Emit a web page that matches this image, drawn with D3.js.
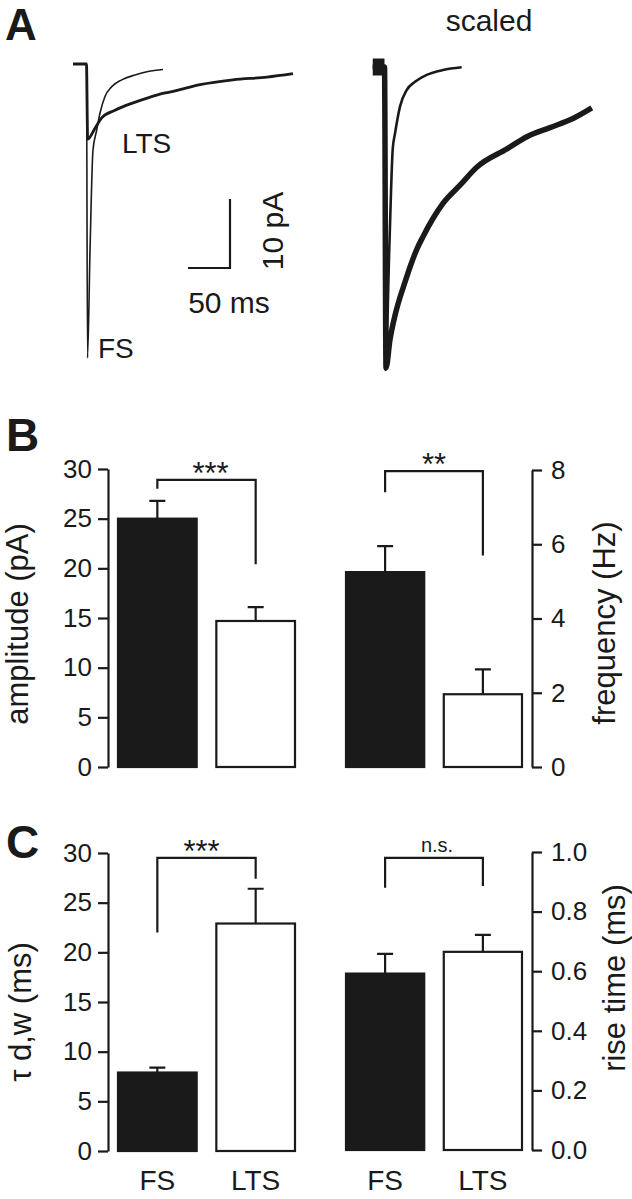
<!DOCTYPE html>
<html><head><meta charset="utf-8">
<script src="https://cdn.jsdelivr.net/npm/d3@7/dist/d3.min.js"></script>
<style>
body{margin:0;background:#fff}
svg{display:block;background:#fff}
text{font-family:"Liberation Sans",Arial,Helvetica,sans-serif;fill:#1a1a1a}
</style>
</head><body>
<svg id="chart" width="632" height="1199"></svg>
<script>
// ---------- Panel A: example traces (time in ms, current in pA) ----------
const fsTime     = [-16, 0, 1.2, 4.2, 7.7, 12.1, 16.1, 22.0, 30.0, 41.9, 57.7, 73.2, 91.1];
const fsCurrent  = [0, 0, -42.6, -27.0, -12.5, -9.6, -7.1, -4.7, -3.3, -2.3, -1.6, -1.1, -0.8];
const ltsTime    = [-16, 0, 1.4, 10.1, 18.1, 33.9, 53.8, 73.2, 93.5, 105.4, 135.1, 174.4, 214.9, 245.8];
const ltsCurrent = [0, 0, -10.9, -9.3, -7.8, -6.7, -5.7, -4.9, -4.2, -3.9, -3.0, -2.3, -1.9, -1.4];
// scaled traces (normalised to peak)
const fsScaledTime  = [-14, 0, 1.2, 5.7, 9.8, 12.5, 18.5, 26.4, 36.3, 50.2, 69.6, 91.9];
const fsScaled      = [0, 0, -1.0, -0.60, -0.27, -0.22, -0.13, -0.076, -0.049, -0.026, -0.010, -0.001];
const ltsScaledTime = [-14, 0, 1.8, 6.5, 12.5, 18.5, 24.4, 30.4, 38.7, 45.8, 57.7, 69.6, 89.9, 110.1, 145.8, 169.6, 197.0, 224.4, 246.8];
const ltsScaled     = [0, 0, -0.993, -0.90, -0.82, -0.76, -0.71, -0.66, -0.60, -0.56, -0.50, -0.45, -0.39, -0.33, -0.27, -0.23, -0.20, -0.17, -0.135];
const scaleBarMs = 50, scaleBarPa = 10;

// ---------- Panels B & C: bar data ----------
const groups   = ["FS", "LTS"];
const ampMean  = [25.0, 14.7],  ampSem  = [1.8, 1.4];
const freqMean = [5.25, 1.96],  freqSem = [0.70, 0.67];
const tauMean  = [7.9, 22.9],   tauSem  = [0.5, 3.5];
const riseMean = [0.592, 0.665], riseSem = [0.066, 0.057];
const ampTicks  = [0, 5, 10, 15, 20, 25, 30];
const freqTicks = [0, 2, 4, 6, 8];
const tauTicks  = [0, 5, 10, 15, 20, 25, 30];
const riseTicks = [0, 0.2, 0.4, 0.6, 0.8, 1.0];
// significance brackets: [bar level, left leg end, right leg end]
const ampSig  = [28.9, 28.0, 20.4], ampSigLabel  = "***";
const freqSig = [7.97, 7.4, 5.7],   freqSigLabel = "**";
const tauSig  = [29.5, 22.0, 27.4], tauSigLabel  = "***";
const riseSig = [0.98, 0.88, 0.886], riseSigLabel = "n.s.";

const svg = d3.select("#chart");
const ink = "#1a1a1a";

// ---------------- Panel A ----------------
svg.append("text").attr("x", 5).attr("y", 40).attr("font-size", 44).attr("font-weight", "bold").text("A");

const xA = d3.scaleLinear().domain([0, 50]).range([86.5, 128.5]);
const yA = d3.scaleLinear().domain([0, -10]).range([64, 133]);
const lineGen = (xs, ys) => d3.line().curve(d3.curveMonotoneX).x(d => xs(d[0])).y(d => ys(d[1]));

const gA = svg.append("g");
gA.append("path").datum(d3.zip(ltsTime, ltsCurrent))
  .attr("d", lineGen(xA, yA)).attr("fill", "none").attr("stroke", ink).attr("stroke-width", 2.8);
gA.append("path").datum(d3.zip(fsTime, fsCurrent))
  .attr("d", lineGen(xA, yA)).attr("fill", "none").attr("stroke", ink).attr("stroke-width", 1.6);

gA.append("text").attr("x", 122).attr("y", 153).attr("font-size", 28).text("LTS");
gA.append("text").attr("x", 98).attr("y", 358).attr("font-size", 28).text("FS");

// scale bar
const sbX = 230, sbY = 268;
const sbW = xA(scaleBarMs) - xA(0), sbH = yA(-scaleBarPa) - yA(0);
gA.append("path").attr("d", `M${sbX - sbW},${sbY}H${sbX}V${sbY - sbH}`)
  .attr("fill", "none").attr("stroke", ink).attr("stroke-width", 2.2);
gA.append("text").attr("transform", `translate(283,231) rotate(-90)`).attr("text-anchor", "middle")
  .attr("font-size", 30).text(`${scaleBarPa} pA`);
gA.append("text").attr("x", 229).attr("y", 313).attr("text-anchor", "middle")
  .attr("font-size", 30).text(`${scaleBarMs} ms`);

// scaled
const xS = d3.scaleLinear().domain([0, 50]).range([384.5, 426.5]);
const yS = d3.scaleLinear().domain([0, -1]).range([67, 370]);
svg.append("text").attr("x", 489).attr("y", 31).attr("text-anchor", "middle").attr("font-size", 30).text("scaled");
const ltsS = d3.zip(ltsScaledTime, ltsScaled);
gA.append("path").datum(ltsS)
  .attr("d", lineGen(xS, yS)).attr("fill", "none").attr("stroke", ink).attr("stroke-width", 5.5).attr("stroke-linejoin", "round");
gA.append("path").datum(ltsS.slice(0, 2))
  .attr("d", lineGen(xS, yS)).attr("fill", "none").attr("stroke", ink).attr("stroke-width", 17);
gA.append("path").datum(d3.zip(fsScaledTime, fsScaled))
  .attr("d", lineGen(xS, yS)).attr("fill", "none").attr("stroke", ink).attr("stroke-width", 2.6);

// ---------------- Bar panels ----------------
function barPanel(opt) {
  const g = svg.append("g");
  const x = d3.scaleBand().domain(groups).range(opt.xr).paddingInner(0.2);
  const y = d3.scaleLinear().domain(opt.domain).range(opt.yr);
  const axis = (opt.side === "left" ? d3.axisLeft(y) : d3.axisRight(y))
    .tickValues(opt.ticks).tickSize(10).tickPadding(opt.side === "left" ? 6 : 9).tickSizeOuter(0);
  if (opt.fmt) axis.tickFormat(opt.fmt);
  const ax = g.append("g").attr("transform", `translate(${opt.axisX},0)`).call(axis);
  ax.selectAll("path,line").attr("stroke", ink).attr("stroke-width", 2.2);
  ax.selectAll("text").attr("font-size", 26).attr("fill", ink)
    .attr("font-family", '"Liberation Sans",Arial,sans-serif');

  // bars
  g.selectAll("rect.bar").data(groups).join("rect")
    .attr("x", d => x(d)).attr("width", x.bandwidth())
    .attr("y", (d, i) => y(opt.mean[i])).attr("height", (d, i) => y(0) - y(opt.mean[i]))
    .attr("fill", (d, i) => i === 0 ? ink : "#fff").attr("stroke", ink).attr("stroke-width", 2.2);
  // error bars
  const cx = d => x(d) + x.bandwidth() / 2;
  g.selectAll("path.err").data(groups).join("path")
    .attr("d", (d, i) => {
      const top = y(opt.mean[i] + opt.sem[i]);
      return `M${cx(d)},${y(opt.mean[i])}V${top}M${cx(d) - 8},${top}H${cx(d) + 8}`;
    })
    .attr("fill", "none").attr("stroke", ink).attr("stroke-width", 2.2);
  // significance bracket
  const [lev, l1, l2] = opt.sig;
  const xa = cx(groups[0]), xb = cx(groups[1]);
  g.append("path").attr("d", `M${xa},${y(l1)}V${y(lev)}H${xb}V${y(l2)}`)
    .attr("fill", "none").attr("stroke", ink).attr("stroke-width", 2.2);
  g.append("text").attr("x", (xa + xb) / 2 + opt.sigDx).attr("y", y(lev) + opt.sigDy)
    .attr("text-anchor", "middle").attr("font-size", opt.sigSize).text(opt.sigLabel);
  // axis title
  g.append("text").attr("transform", `translate(${opt.titleX},${opt.titleY}) rotate(-90)`)
    .attr("text-anchor", "middle").attr("font-size", 31).text(opt.title);
  // x labels
  if (opt.xlabels) {
    g.selectAll("text.xl").data(groups).join("text")
      .attr("x", d => cx(d)).attr("y", opt.xlabelY).attr("text-anchor", "middle")
      .attr("font-size", 28).text(d => d);
  }
}

svg.append("text").attr("x", 6).attr("y", 451).attr("font-size", 46).attr("font-weight", "bold").text("B");
svg.append("text").attr("x", 6).attr("y", 858).attr("font-size", 46).attr("font-weight", "bold").text("C");

barPanel({ xr: [118, 295], domain: [0, 30], yr: [767, 469], side: "left", axisX: 108, ticks: ampTicks,
  mean: ampMean, sem: ampSem, sig: ampSig, sigLabel: ampSigLabel, sigDx: 4, sigDy: 4, sigSize: 31,
  title: "amplitude (pA)", titleX: 28, titleY: 624 });
barPanel({ xr: [346, 522], domain: [0, 8], yr: [767, 470], side: "right", axisX: 532, ticks: freqTicks,
  mean: freqMean, sem: freqSem, sig: freqSig, sigLabel: freqSigLabel, sigDx: 0, sigDy: 4, sigSize: 31,
  title: "frequency (Hz)", titleX: 615, titleY: 623 });
barPanel({ xr: [118, 295], domain: [0, 30], yr: [1151, 853], side: "left", axisX: 108, ticks: tauTicks,
  mean: tauMean, sem: tauSem, sig: tauSig, sigLabel: tauSigLabel, sigDx: -5, sigDy: 4, sigSize: 31,
  title: "τ d,w (ms)", titleX: 31, titleY: 1012, xlabels: true, xlabelY: 1190 });
barPanel({ xr: [346, 522], domain: [0, 1], yr: [1150, 852], side: "right", axisX: 532, ticks: riseTicks,
  fmt: d3.format(".1f"),
  mean: riseMean, sem: riseSem, sig: riseSig, sigLabel: riseSigLabel, sigDx: 3, sigDy: -6, sigSize: 20,
  title: "rise time (ms)", titleX: 625, titleY: 978, xlabels: true, xlabelY: 1190 });
</script>
</body></html>
